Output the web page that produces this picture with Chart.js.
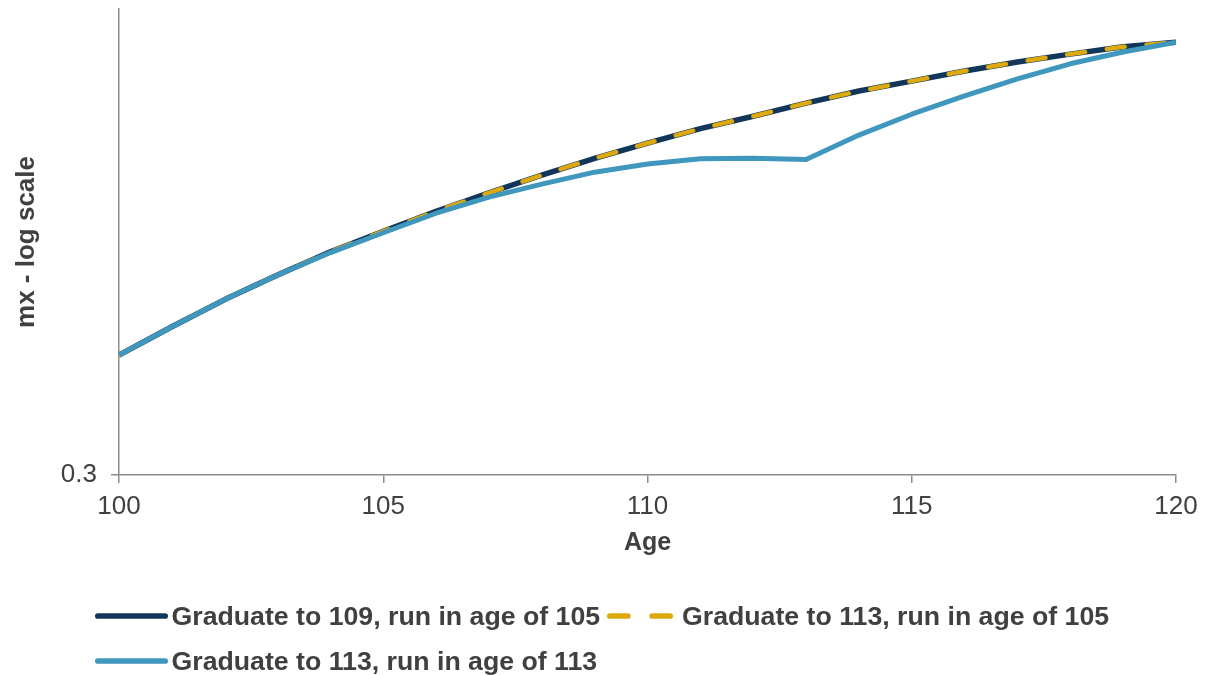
<!DOCTYPE html>
<html>
<head>
<meta charset="utf-8">
<script src="https://cdn.jsdelivr.net/npm/chart.js@4.4.1/dist/chart.umd.min.js"></script>
<style>
  html, body { margin: 0; padding: 0; background: #ffffff; }
  #wrap { position: relative; width: 1208px; height: 675px; overflow: hidden; }
  #chart { position: absolute; left: 0; top: 0; }
  .lg { position: absolute; height: 32px; display: flex; align-items: center;
    font-family: "Liberation Sans", Arial, sans-serif; font-weight: bold; font-size: 26.7px; color: #404040; white-space: nowrap; }
  .lg svg { display: block; }
</style>
</head>
<body>
<div id="wrap">
  <canvas id="chart" width="1208" height="675"></canvas>
  <div id="legend"></div>
</div>
<script>
// Ages on the x axis
const ages = [100, 101, 102, 103, 104, 105, 106, 107, 108, 109, 110,
              111, 112, 113, 114, 115, 116, 117, 118, 119, 120];

// Mortality rates (mx) per scenario
const grad109run105 = [0.409, 0.440, 0.472, 0.503, 0.534, 0.563, 0.593, 0.622, 0.651, 0.680, 0.707,
                       0.734, 0.758, 0.784, 0.809, 0.830, 0.852, 0.872, 0.890, 0.907, 0.918];
const grad113run105 = [0.409, 0.440, 0.472, 0.503, 0.534, 0.563, 0.593, 0.622, 0.651, 0.680, 0.707,
                       0.734, 0.758, 0.784, 0.809, 0.830, 0.852, 0.872, 0.890, 0.907, 0.918];
const grad113run113 = [0.409, 0.440, 0.472, 0.503, 0.533, 0.561, 0.590, 0.615, 0.636, 0.656, 0.670,
                       0.679, 0.680, 0.678, 0.722, 0.762, 0.799, 0.835, 0.868, 0.895, 0.918];

const seriesNames = [
  'Graduate to 109, run in age of 105',
  'Graduate to 113, run in age of 105',
  'Graduate to 113, run in age of 113'
];

// Axis tick labels
const xTicks = [100, 105, 110, 115, 120];
const yTicks = [0.3];

const NAVY = '#12365a';
const GOLD = '#dcaa0e';
const BLUE = '#3f97bd';
const TEXT = '#404040';
const AXIS = '#8c8c8c';
const FONT = '"Liberation Sans", Arial, sans-serif';

const toPoints = vals => ages.map((a, i) => ({ x: a, y: vals[i] }));

// Keep the plot area fixed: no extra label padding above/below the axes
const noScalePadding = s => { s.paddingTop = 0; s.paddingBottom = 0; };

new Chart(document.getElementById('chart'), {
  type: 'line',
  data: {
    datasets: [
      { label: seriesNames[0], data: toPoints(grad109run105), borderColor: NAVY, borderWidth: 5.5,
        pointRadius: 0, tension: 0, order: 3, borderJoinStyle: 'round' },
      { label: seriesNames[1], data: toPoints(grad113run105), borderColor: GOLD, borderWidth: 4.5,
        borderDash: [18, 22], borderCapStyle: 'round', pointRadius: 0, tension: 0, order: 2 },
      { label: seriesNames[2], data: toPoints(grad113run113), borderColor: BLUE, borderWidth: 5,
        pointRadius: 0, tension: 0, order: 1, borderJoinStyle: 'round' }
    ]
  },
  options: {
    responsive: false,
    animation: false,
    devicePixelRatio: 1,
    layout: { padding: { top: 9, right: 32, bottom: 117, left: 0 } },
    plugins: { legend: { display: false }, tooltip: { enabled: false } },
    scales: {
      x: {
        type: 'linear', min: 100, max: 120,
        afterFit: s => { s.height = 83; },
        afterBuildTicks: s => { s.ticks = xTicks.map(v => ({ value: v })); },
        grid: { drawOnChartArea: false, drawTicks: true, tickLength: 8, color: AXIS, lineWidth: 1.5 },
        border: { display: true, color: AXIS, width: 1.5 },
        ticks: { color: TEXT, font: { family: FONT, size: 26 }, padding: 8, maxRotation: 0 },
        title: { display: true, text: 'Age', color: TEXT, font: { family: FONT, size: 25, weight: 'bold' },
                 padding: { top: 0, bottom: 0 } }
      },
      y: {
        type: 'logarithmic', min: 0.3, max: 1,
        afterFit: s => { s.width = 119; noScalePadding(s); },
        afterBuildTicks: s => { s.ticks = yTicks.map(v => ({ value: v })); },
        grid: { drawOnChartArea: false, drawTicks: true, tickLength: 8, color: AXIS, lineWidth: 1.5 },
        border: { display: true, color: AXIS, width: 1.5 },
        ticks: { color: TEXT, font: { family: FONT, size: 26 }, padding: 14,
                 callback: v => String(v) },
        title: { display: true, text: 'mx - log scale', color: TEXT,
                 font: { family: FONT, size: 26, weight: 'bold' }, padding: { top: 11, bottom: 0 } }
      }
    }
  }
});

// Legend built from the same series names and colours
function sample(color, dashed) {
  if (dashed) {
    return '<svg width="66" height="10" viewBox="0 0 66 10"><line x1="2.85" y1="5" x2="63.15" y2="5" stroke="' +
      color + '" stroke-width="5.7" stroke-linecap="round" stroke-dasharray="18 24.3"/></svg>';
  }
  return '<svg width="73" height="10" viewBox="0 0 73 10"><line x1="2.85" y1="5" x2="70.15" y2="5" stroke="' +
    color + '" stroke-width="5.7" stroke-linecap="round"/></svg>';
}
const legendItems = [
  { color: NAVY, dashed: false, text: seriesNames[0], left: 95, textLeft: 171.5, top: 600 },
  { color: GOLD, dashed: true,  text: seriesNames[1], left: 607, textLeft: 682, top: 600 },
  { color: BLUE, dashed: false, text: seriesNames[2], left: 95, textLeft: 171.5, top: 645 }
];
document.getElementById('legend').innerHTML = legendItems.map(it =>
  '<div class="lg" style="left:' + it.left + 'px;top:' + it.top + 'px">' + sample(it.color, it.dashed) + '</div>' +
  '<div class="lg" style="left:' + it.textLeft + 'px;top:' + it.top + 'px">' + it.text + '</div>'
).join('');
</script>
</body>
</html>
